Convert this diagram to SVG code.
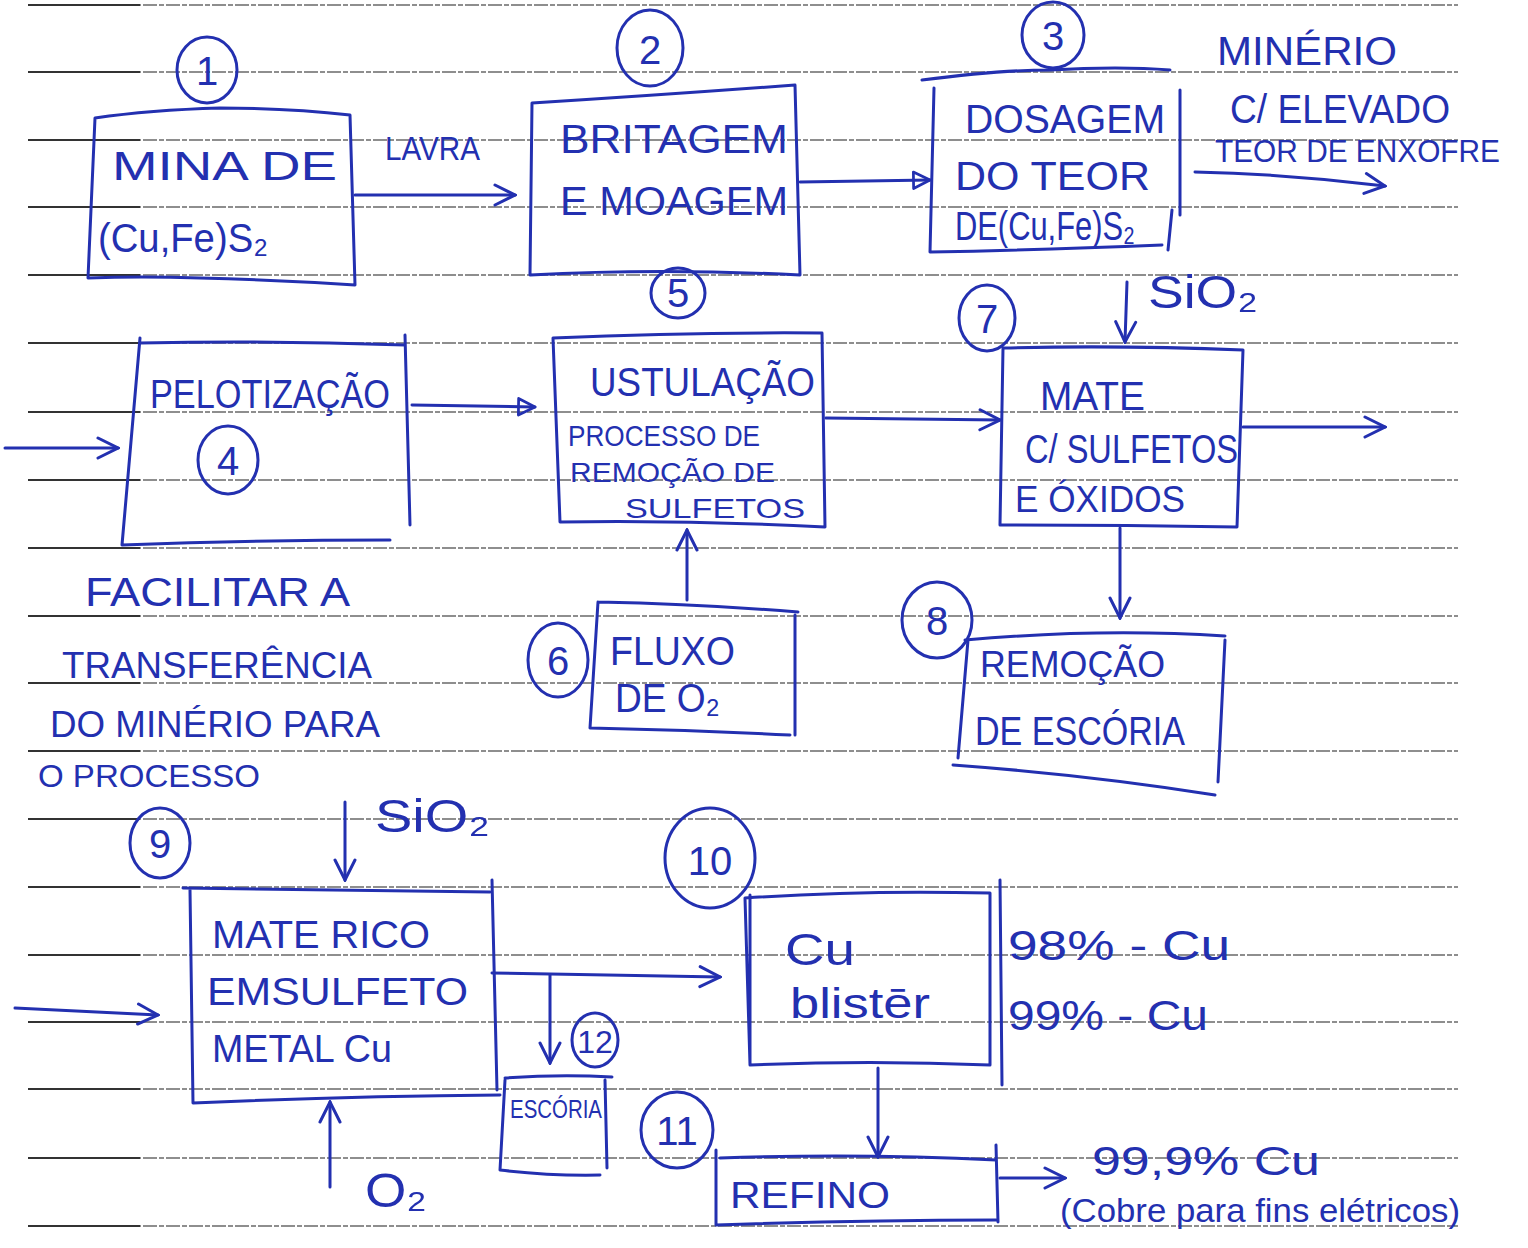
<svg xmlns="http://www.w3.org/2000/svg" width="1528" height="1248" viewBox="0 0 1528 1248">
<defs>
<style>
.rule{stroke:#6a6a6a;stroke-width:1.4;stroke-dasharray:14 2 5 2}
.rl{stroke:#333;stroke-width:2.2}
.b{fill:none;stroke:#2330b0;stroke-width:3;stroke-linejoin:round;stroke-linecap:round}
.c{fill:none;stroke:#2330b0;stroke-width:3}
.k{fill:none;stroke:#2330b0;stroke-width:3;stroke-linecap:round}
.t{fill:#2330b0;font-family:"Liberation Sans","DejaVu Sans",sans-serif;font-size:40px}
.n{fill:#2330b0;font-family:"Liberation Sans","DejaVu Sans",sans-serif;font-size:40px;text-anchor:middle}
</style>
<marker id="ah" viewBox="0 0 24 24" refX="22" refY="12" markerWidth="24" markerHeight="24" markerUnits="userSpaceOnUse" orient="auto">
<path d="M2,2 L22,12 L2,22" fill="none" stroke="#2330b0" stroke-width="3" stroke-linecap="round"/>
</marker>
<marker id="tri" viewBox="0 0 24 24" refX="22" refY="12" markerWidth="22" markerHeight="22" markerUnits="userSpaceOnUse" orient="auto">
<path d="M4,3 L22,12 L4,21 Z" fill="none" stroke="#2330b0" stroke-width="3" stroke-linejoin="round"/>
</marker>
</defs>
<rect width="1528" height="1248" fill="#ffffff"/>

<g id="ruled-lines">
<line class="rule" x1="28" y1="5" x2="1458" y2="5"/>
<line class="rule" x1="28" y1="72" x2="1458" y2="72"/>
<line class="rule" x1="28" y1="140" x2="1458" y2="140"/>
<line class="rule" x1="28" y1="207" x2="1458" y2="207"/>
<line class="rule" x1="28" y1="275" x2="1458" y2="275"/>
<line class="rule" x1="28" y1="343" x2="1458" y2="343"/>
<line class="rule" x1="28" y1="412" x2="1458" y2="412"/>
<line class="rule" x1="28" y1="480" x2="1458" y2="480"/>
<line class="rule" x1="28" y1="548" x2="1458" y2="548"/>
<line class="rule" x1="28" y1="616" x2="1458" y2="616"/>
<line class="rule" x1="28" y1="683" x2="1458" y2="683"/>
<line class="rule" x1="28" y1="751" x2="1458" y2="751"/>
<line class="rule" x1="28" y1="819" x2="1458" y2="819"/>
<line class="rule" x1="28" y1="887" x2="1458" y2="887"/>
<line class="rule" x1="28" y1="955" x2="1458" y2="955"/>
<line class="rule" x1="28" y1="1022" x2="1458" y2="1022"/>
<line class="rule" x1="28" y1="1089" x2="1458" y2="1089"/>
<line class="rule" x1="28" y1="1158" x2="1458" y2="1158"/>
<line class="rule" x1="28" y1="1226" x2="1458" y2="1226"/>
<g>
<line class="rl" x1="28" y1="5" x2="140" y2="5"/>
<line class="rl" x1="28" y1="72" x2="140" y2="72"/>
<line class="rl" x1="28" y1="140" x2="140" y2="140"/>
<line class="rl" x1="28" y1="207" x2="140" y2="207"/>
<line class="rl" x1="28" y1="275" x2="140" y2="275"/>
<line class="rl" x1="28" y1="343" x2="140" y2="343"/>
<line class="rl" x1="28" y1="412" x2="140" y2="412"/>
<line class="rl" x1="28" y1="480" x2="140" y2="480"/>
<line class="rl" x1="28" y1="548" x2="140" y2="548"/>
<line class="rl" x1="28" y1="616" x2="140" y2="616"/>
<line class="rl" x1="28" y1="683" x2="140" y2="683"/>
<line class="rl" x1="28" y1="751" x2="140" y2="751"/>
<line class="rl" x1="28" y1="819" x2="140" y2="819"/>
<line class="rl" x1="28" y1="887" x2="140" y2="887"/>
<line class="rl" x1="28" y1="955" x2="140" y2="955"/>
<line class="rl" x1="28" y1="1022" x2="140" y2="1022"/>
<line class="rl" x1="28" y1="1089" x2="140" y2="1089"/>
<line class="rl" x1="28" y1="1158" x2="140" y2="1158"/>
<line class="rl" x1="28" y1="1226" x2="140" y2="1226"/>
</g>
</g>

<g id="connectors">
<path class="k" d="M355,195 L515,195" marker-end="url(#ah)"/>
<path class="k" d="M800,182 L930,180" marker-end="url(#tri)"/>
<path class="k" d="M1195,172 Q1290,174 1385,186" marker-end="url(#ah)"/>
<path class="k" d="M5,448 L118,448" marker-end="url(#ah)"/>
<path class="k" d="M412,405 L535,407" marker-end="url(#tri)"/>
<path class="k" d="M826,418 L1000,420" marker-end="url(#ah)"/>
<path class="k" d="M1127,282 L1125,342" marker-end="url(#ah)"/>
<path class="k" d="M1243,427 L1385,427" marker-end="url(#ah)"/>
<path class="k" d="M1120,528 L1120,618" marker-end="url(#ah)"/>
<path class="k" d="M687,600 L687,530" marker-end="url(#ah)"/>
<path class="k" d="M345,802 L345,880" marker-end="url(#ah)"/>
<path class="k" d="M15,1008 L158,1015" marker-end="url(#ah)"/>
<path class="k" d="M492,973 L720,977" marker-end="url(#ah)"/>
<path class="k" d="M550,975 L550,1063" marker-end="url(#ah)"/>
<path class="k" d="M330,1187 L330,1102" marker-end="url(#ah)"/>
<path class="k" d="M878,1068 L878,1157" marker-end="url(#ah)"/>
<path class="k" d="M1000,1178 L1065,1178" marker-end="url(#ah)"/>
</g>

<g id="n1">
<ellipse class="c" cx="207" cy="70" rx="30" ry="33"/>
<text class="n" x="207" y="85">1</text>
<path class="b" d="M95,118 Q150,110 220,108 Q290,108 350,115 L355,285 Q280,280 200,278 Q140,276 88,278 Z"/>
<text class="t" x="112" y="180" textLength="225" lengthAdjust="spacingAndGlyphs">MINA DE</text>
<text class="t" x="98" y="252" textLength="170" lengthAdjust="spacingAndGlyphs">(Cu,Fe)S₂</text>
</g>

<g id="lavra">
<text class="t" x="385" y="160" textLength="95" lengthAdjust="spacingAndGlyphs" style="font-size:34px">LAVRA</text>
</g>

<g id="n2">
<ellipse class="c" cx="650" cy="48" rx="33" ry="38"/>
<text class="n" x="650" y="64">2</text>
<path class="b" d="M532,103 Q660,95 795,85 L800,275 Q660,268 530,275 Z"/>
<text class="t" x="560" y="153" textLength="228" lengthAdjust="spacingAndGlyphs">BRITAGEM</text>
<text class="t" x="560" y="215" textLength="228" lengthAdjust="spacingAndGlyphs">E MOAGEM</text>
</g>

<g id="n3">
<ellipse class="c" cx="1053" cy="35" rx="31" ry="33"/>
<text class="n" x="1053" y="50">3</text>
<path class="b" d="M922,80 Q1000,70 1050,70 Q1120,66 1170,70"/>
<path class="b" d="M934,88 L930,252 Q1040,250 1162,245 M1180,90 L1180,215 M1172,210 L1168,250"/>
<text class="t" x="965" y="133" textLength="200" lengthAdjust="spacingAndGlyphs">DOSAGEM</text>
<text class="t" x="955" y="190" textLength="195" lengthAdjust="spacingAndGlyphs">DO TEOR</text>
<text class="t" x="955" y="240" textLength="180" lengthAdjust="spacingAndGlyphs">DE(Cu,Fe)S₂</text>
</g>

<g id="minerio">
<text class="t" x="1217" y="65" textLength="180" lengthAdjust="spacingAndGlyphs">MINÉRIO</text>
<text class="t" x="1230" y="123" textLength="220" lengthAdjust="spacingAndGlyphs">C/ ELEVADO</text>
<text class="t" x="1215" y="162" textLength="285" lengthAdjust="spacingAndGlyphs" style="font-size:32px">TEOR DE ENXOFRE</text>
</g>

<g id="n4">
<path class="b" d="M140,343 Q270,340 405,345 M140,338 L122,545 Q260,540 390,540 M405,335 L410,525"/>
<text class="t" x="150" y="408" textLength="240" lengthAdjust="spacingAndGlyphs">PELOTIZAÇÃO</text>
<ellipse class="c" cx="228" cy="460" rx="30" ry="34"/>
<text class="n" x="228" y="475">4</text>
</g>

<g id="n5">
<ellipse class="c" cx="678" cy="293" rx="27" ry="25"/>
<text class="n" x="678" y="307">5</text>
<path class="b" d="M553,338 Q690,332 822,333 L825,527 Q690,520 560,522 Z"/>
<text class="t" x="590" y="396" textLength="225" lengthAdjust="spacingAndGlyphs">USTULAÇÃO</text>
<text class="t" x="568" y="446" textLength="192" lengthAdjust="spacingAndGlyphs" style="font-size:30px">PROCESSO DE</text>
<text class="t" x="570" y="482" textLength="205" lengthAdjust="spacingAndGlyphs" style="font-size:28px">REMOÇÃO DE</text>
<text class="t" x="625" y="518" textLength="180" lengthAdjust="spacingAndGlyphs" style="font-size:28px">SULFETOS</text>
</g>

<g id="n6">
<ellipse class="c" cx="558" cy="660" rx="30" ry="37"/>
<text class="n" x="558" y="675">6</text>
<path class="b" d="M598,602 Q700,604 798,612 M598,602 L590,728 Q690,730 790,735 M795,615 L795,735"/>
<text class="t" x="610" y="665" textLength="125" lengthAdjust="spacingAndGlyphs">FLUXO</text>
<text class="t" x="615" y="712" textLength="105" lengthAdjust="spacingAndGlyphs">DE O₂</text>
</g>

<g id="facilitar">
<text class="t" x="85" y="606" textLength="265" lengthAdjust="spacingAndGlyphs">FACILITAR A</text>
<text class="t" x="62" y="678" textLength="310" lengthAdjust="spacingAndGlyphs" style="font-size:36px">TRANSFERÊNCIA</text>
<text class="t" x="50" y="737" textLength="330" lengthAdjust="spacingAndGlyphs" style="font-size:36px">DO MINÉRIO PARA</text>
<text class="t" x="38" y="787" textLength="222" lengthAdjust="spacingAndGlyphs" style="font-size:32px">O PROCESSO</text>
</g>

<g id="n7">
<ellipse class="c" cx="987" cy="318" rx="28" ry="33"/>
<text class="n" x="987" y="333">7</text>
<text class="t" x="1148" y="308" textLength="110" lengthAdjust="spacingAndGlyphs" style="font-size:46px">SiO₂</text>
<path class="b" d="M1003,348 Q1120,345 1243,350 L1237,527 Q1120,525 1000,525 Z"/>
<text class="t" x="1040" y="410" textLength="105" lengthAdjust="spacingAndGlyphs">MATE</text>
<text class="t" x="1025" y="463" textLength="213" lengthAdjust="spacingAndGlyphs">C/ SULFETOS</text>
<text class="t" x="1015" y="512" textLength="170" lengthAdjust="spacingAndGlyphs" style="font-size:36px">E ÓXIDOS</text>
</g>

<g id="n8">
<ellipse class="c" cx="937" cy="620" rx="35" ry="38"/>
<text class="n" x="937" y="635">8</text>
<path class="b" d="M965,640 Q1100,628 1225,636 M968,640 L958,758 M1225,640 L1218,782 M953,765 Q1090,775 1215,795"/>
<text class="t" x="980" y="677" textLength="185" lengthAdjust="spacingAndGlyphs" style="font-size:36px">REMOÇÃO</text>
<text class="t" x="975" y="745" textLength="210" lengthAdjust="spacingAndGlyphs">DE ESCÓRIA</text>
</g>

<g id="n9">
<ellipse class="c" cx="160" cy="843" rx="30" ry="35"/>
<text class="n" x="160" y="858">9</text>
<text class="t" x="375" y="832" textLength="115" lengthAdjust="spacingAndGlyphs" style="font-size:46px">SiO₂</text>
<path class="b" d="M183,888 Q340,890 490,892 M190,890 L193,1103 Q350,1096 500,1095 M492,880 L497,1090"/>
<text class="t" x="212" y="948" textLength="218" lengthAdjust="spacingAndGlyphs" style="font-size:38px">MATE RICO</text>
<text class="t" x="207" y="1005" textLength="261" lengthAdjust="spacingAndGlyphs" style="font-size:38px">EMSULFETO</text>
<text class="t" x="212" y="1062" textLength="180" lengthAdjust="spacingAndGlyphs" style="font-size:38px">METAL Cu</text>
<text class="t" x="365" y="1207" textLength="62" lengthAdjust="spacingAndGlyphs" style="font-size:48px">O₂</text>
</g>

<g id="n12">
<ellipse class="c" cx="595" cy="1040" rx="23" ry="27"/>
<text class="n" x="595" y="1053" style="font-size:32px">12</text>
<path class="b" d="M505,1078 Q560,1074 612,1077 M505,1080 L500,1170 Q550,1176 600,1175 M605,1080 L607,1168"/>
<text class="t" x="510" y="1118" textLength="92" lengthAdjust="spacingAndGlyphs" style="font-size:26px">ESCÓRIA</text>
</g>

<g id="n10">
<ellipse class="c" cx="710" cy="858" rx="45" ry="50"/>
<text class="n" x="710" y="875">10</text>
<path class="b" d="M745,898 Q860,890 990,893 L990,1065 Q870,1060 750,1065 Z M750,895 L750,1065 M1000,880 L1002,1085"/>
<text class="t" x="785" y="965" textLength="70" lengthAdjust="spacingAndGlyphs" style="font-size:44px">Cu</text>
<text class="t" x="790" y="1018" textLength="140" lengthAdjust="spacingAndGlyphs" style="font-size:42px">blistēr</text>
<text class="t" x="1008" y="960" textLength="222" lengthAdjust="spacingAndGlyphs" style="font-size:42px">98% - Cu</text>
<text class="t" x="1008" y="1030" textLength="200" lengthAdjust="spacingAndGlyphs" style="font-size:42px">99% - Cu</text>
</g>

<g id="n11">
<ellipse class="c" cx="677" cy="1130" rx="36" ry="38"/>
<text class="n" x="677" y="1145">11</text>
<path class="b" d="M720,1158 Q860,1153 996,1160 M716,1150 L716,1225 Q860,1220 996,1220 M996,1145 L998,1222"/>
<text class="t" x="730" y="1208" textLength="160" lengthAdjust="spacingAndGlyphs" style="font-size:36px">REFINO</text>
<text class="t" x="1092" y="1175" textLength="228" lengthAdjust="spacingAndGlyphs" style="font-size:40px">99,9% Cu</text>
<text class="t" x="1060" y="1222" textLength="400" lengthAdjust="spacingAndGlyphs" style="font-size:34px">(Cobre para fins elétricos)</text>
</g>
</svg>
